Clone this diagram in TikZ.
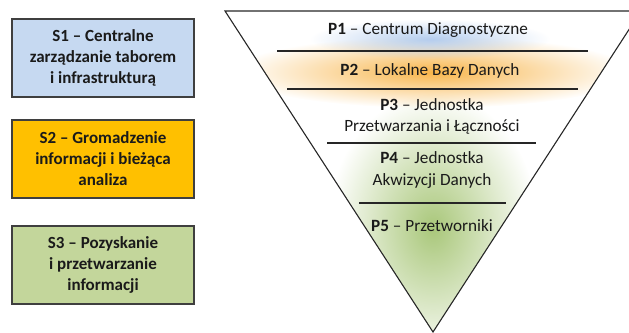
\documentclass[tikz,border=0pt]{standalone}
\usepackage{fontspec}
\setmainfont{Carlito}
\usetikzlibrary{fadings}

\definecolor{sblue}{HTML}{C6D9F1}
\definecolor{sorange}{HTML}{FFC000}
\definecolor{sgreen}{HTML}{C3D69B}
\definecolor{glowblue}{HTML}{B4CDEE}
\definecolor{gloworange}{HTML}{F8B54A}
\definecolor{glowgreen}{HTML}{A9C77A}
\definecolor{edgegray}{HTML}{3F3F3F}
\definecolor{txtdark}{HTML}{1A1A1A}

\tikzfading[name=glow, inner color=transparent!0, outer color=transparent!100]

\begin{document}
\begin{tikzpicture}[x=1pt, y=-1pt,
    stage/.style={rectangle, draw=edgegray, line width=1.3pt, minimum width=182pt, minimum height=78pt, align=center, font=\fontsize{17}{21}\selectfont\bfseries, text=txtdark, inner sep=0pt},
    level/.style={align=center, font=\fontsize{17.2}{21}\selectfont, text=txtdark, inner sep=0pt},
    divider/.style={line width=1.1pt, black!85},
    funnel/.style={line width=1.1pt, black!85}
]
\useasboundingbox (0,0) rectangle (629,332);
\clip (0,0) rectangle (629,332);

% Stage boxes
\node[stage, fill=sblue] (s1) at (103,58) {S1 – Centralne\\zarządzanie taborem\\i infrastrukturą};
\node[stage, fill=sorange] (s2) at (103,159) {S2 – Gromadzenie\\informacji i bieżąca\\analiza};
\node[stage, fill=sgreen] (s3) at (103,265) {S3 – Pozyskanie\\i przetwarzanie\\informacji};

% Funnel glows
\begin{scope}
\clip (225,11) -- (641,11) -- (433,332) -- cycle;
\fill[glowgreen, path fading=glow] (433,228) ellipse (105pt and 135pt);
\fill[gloworange, path fading=glow] (433,72) ellipse (200pt and 36pt);
\fill[glowblue, path fading=glow] (430,39) ellipse (120pt and 20pt);
\end{scope}

% Funnel outline and dividers
\draw[funnel] (225,11) -- (641,11) -- (433,332) -- cycle;
\draw[divider] (277,51) -- (588,51);
\draw[divider] (287,89) -- (578,89);
\draw[divider] (327,143) -- (536,143);
\draw[divider] (359,203) -- (506,203);

% Levels
\node[level] (p1) at (428,30) {\textbf{P1} – Centrum Diagnostyczne};
\node[level] (p2) at (430,71) {\textbf{P2} – Lokalne Bazy Danych};
\node[level] (p3) at (432,116) {\textbf{P3} – Jednostka\\Przetwarzania i Łączności};
\node[level] (p4) at (432,170) {\textbf{P4} – Jednostka\\Akwizycji Danych};
\node[level] (p5) at (432,226) {\textbf{P5} – Przetworniki};

\end{tikzpicture}
\end{document}
